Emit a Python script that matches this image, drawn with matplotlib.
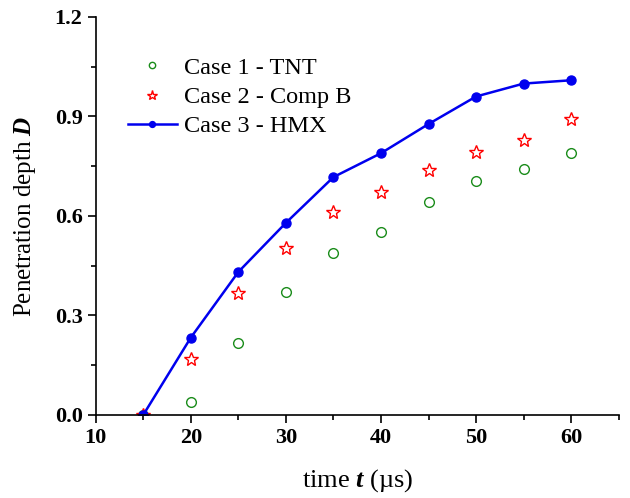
import matplotlib
matplotlib.use('Agg')
import matplotlib.pyplot as plt
from matplotlib.ticker import MultipleLocator

plt.rcParams['font.family'] = 'Liberation Serif'
plt.rcParams['mathtext.fontset'] = 'custom'
plt.rcParams['mathtext.rm'] = 'Liberation Serif'
plt.rcParams['mathtext.bfit'] = 'Liberation Serif:bold:italic'

# data
t = [15, 20, 25, 30, 35, 40, 45, 50, 55, 60]
d_tnt = [0.0, 0.038, 0.217, 0.371, 0.488, 0.552, 0.643, 0.706, 0.742, 0.789]
d_compb = [0.0, 0.168, 0.368, 0.503, 0.612, 0.673, 0.739, 0.792, 0.829, 0.891]
d_hmx = [0.0, 0.233, 0.431, 0.579, 0.717, 0.789, 0.877, 0.960, 0.999, 1.009]

fig = plt.figure(figsize=(6.3, 4.98), dpi=100)
ax = fig.add_axes([0.152, 0.167, 0.83, 0.799])

ax.plot(t, d_tnt, linestyle='none', marker='o', ms=7, mfc='none',
        mec='#1a8c1a', mew=1.0, label='Case 1 - TNT')
ax.plot(t, d_compb, linestyle='none', marker='*', ms=10.5, mfc='none',
        mec='red', mew=1.0, label='Case 2 - Comp B')
ax.plot(t, d_hmx, color='#0000ee', lw=1.8, marker='o', ms=6.5,
        label='Case 3 - HMX')

ax.set_xlim(10, 65)
ax.set_ylim(0, 1.2)
ax.xaxis.set_major_locator(MultipleLocator(10))
ax.xaxis.set_minor_locator(MultipleLocator(5))
ax.yaxis.set_major_locator(MultipleLocator(0.3))
ax.yaxis.set_minor_locator(MultipleLocator(0.15))
ax.yaxis.set_major_formatter(plt.FormatStrFormatter('%.1f'))

for s in ['top', 'right']:
    ax.spines[s].set_visible(False)
for s in ['left', 'bottom']:
    ax.spines[s].set_linewidth(1.2)

ax.tick_params(which='major', direction='out', length=6, width=1.2,
               labelsize=16)
ax.tick_params(which='minor', direction='out', length=3.5, width=1.2)
for lab in ax.get_xticklabels() + ax.get_yticklabels():
    lab.set_fontweight('bold')

ax.set_xlabel(r'time $\mathbfit{t}$ (µs)', fontsize=19, labelpad=14)
ax.set_ylabel(r'Penetration depth $\mathbfit{D}$', fontsize=18, labelpad=12)

ax.legend(loc='upper left', bbox_to_anchor=(0.02, 0.955), frameon=False,
          fontsize=17.5, handlelength=2.0, handletextpad=0.3,
          labelspacing=0.3, markerscale=0.65)

fig.savefig('out.png', dpi=100)
